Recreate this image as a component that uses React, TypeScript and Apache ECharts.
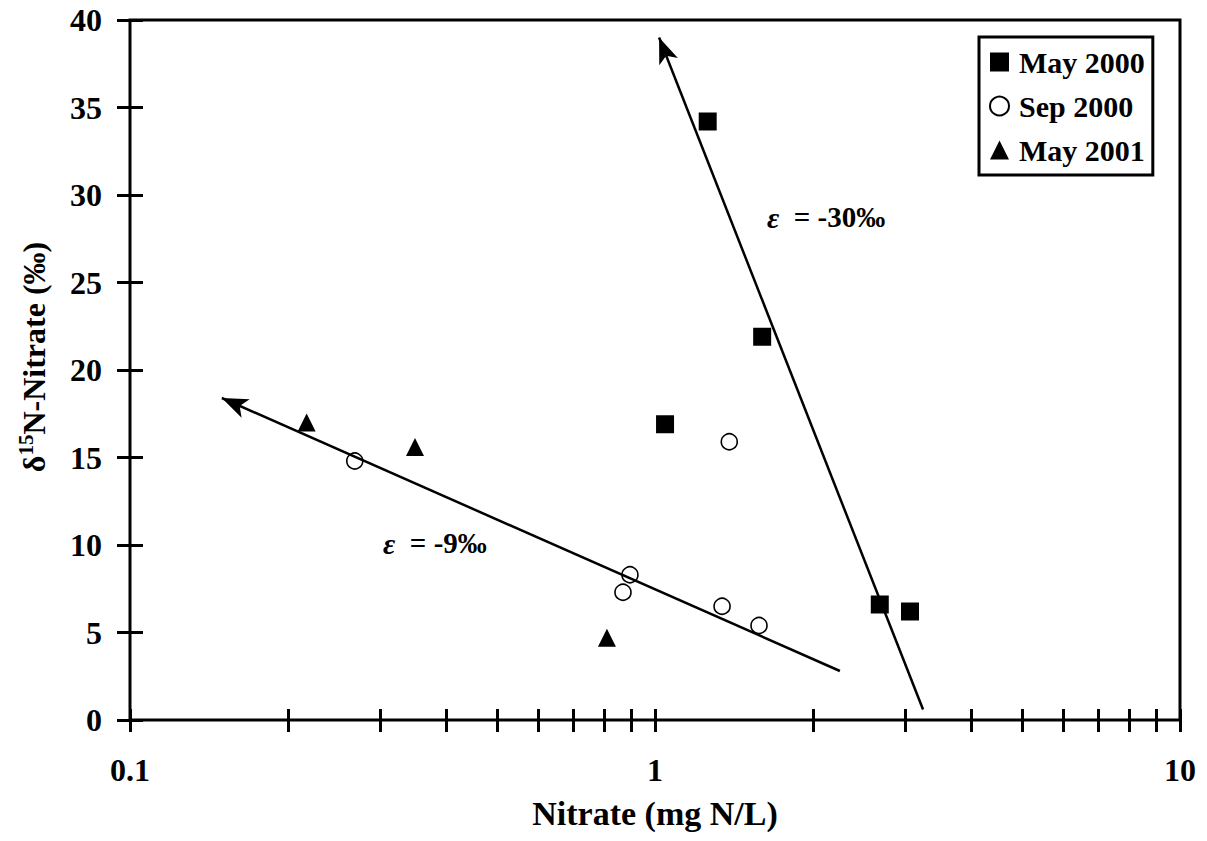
import React, { useEffect, useRef } from "react";
import * as echarts from "echarts";

// ---- data ----
const seriesNames = ["May 2000", "Sep 2000", "May 2001"];
const may2000 = [
  [1.26, 34.2],
  [1.6, 21.9],
  [1.045, 16.9],
  [2.68, 6.6],
  [3.06, 6.2],
];
const sep2000 = [
  [0.268, 14.8],
  [0.896, 8.3],
  [0.869, 7.3],
  [1.385, 15.9],
  [1.342, 6.5],
  [1.578, 5.4],
];
const may2001 = [
  [0.217, 17.0],
  [0.349, 15.6],
  [0.81, 4.7],
];
// enrichment-factor trend lines (arrow at first point)
const fitShallow = [
  [0.1496, 18.4],
  [2.25, 2.8],
];
const fitSteep = [
  [1.018, 39.0],
  [3.24, 0.6],
];
// annotation anchor points (left edge of text) and texts
const annotationPoints = [
  [1.634, 28.74],
  [0.3034, 10.11],
];
const annotationTexts = ["  = -30‰", "  = -9‰"];

const xMajorLabels = [0.1, 1, 10];
const xTickValues = [
  0.1, 0.2, 0.3, 0.4, 0.5, 0.6, 0.7, 0.8, 0.9, 1, 2, 3, 4, 5, 6, 7, 8, 9, 10,
];
const yMin = 0;
const yMax = 40;
const yInterval = 5;

const FONT = "'Liberation Serif', 'Times New Roman', serif";

export default function App() {
  const ref = useRef<HTMLDivElement>(null);

  useEffect(() => {
    if (!ref.current) return;
    const chart = echarts.init(ref.current, undefined, { renderer: "svg" });

    const option: any = {
      animation: false,
      backgroundColor: "#fff",
      textStyle: { fontFamily: FONT, color: "#000" },
      grid: {
        left: 130,
        right: 27,
        top: 20,
        bottom: 121,
        show: true,
        backgroundColor: "transparent",
        borderColor: "#000",
        borderWidth: 3,
        containLabel: false,
      },
      legend: {
        data: seriesNames,
        orient: "vertical",
        left: 979,
        top: 37,
        itemWidth: 19,
        itemHeight: 19,
        itemGap: 14,
        padding: [10, 8, 10, 10],
        borderColor: "#000",
        borderWidth: 3,
        backgroundColor: "#fff",
        selectedMode: false,
        textStyle: {
          fontFamily: FONT,
          fontWeight: "bold",
          fontSize: 30,
          lineHeight: 30,
          color: "#000",
          padding: [0, 0, 0, 5],
        },
      },
      xAxis: {
        type: "log",
        logBase: 10,
        min: 0.1,
        max: 10,
        position: "bottom",
        offset: 12,
        z: 10,
        splitLine: { show: false },
        name: "Nitrate (mg N/L)",
        nameLocation: "middle",
        nameGap: 64,
        nameTextStyle: {
          fontFamily: FONT,
          fontWeight: "bold",
          fontSize: 34,
          color: "#000",
        },
        axisLine: { show: false, onZero: false },
        axisTick: {
          show: true,
          inside: true,
          length: 23,
          lineStyle: { color: "#000", width: 3 },
          customValues: xTickValues,
        },
        minorTick: { show: false },
        axisLabel: {
          show: true,
          margin: 22,
          fontFamily: FONT,
          fontWeight: "bold",
          fontSize: 32,
          color: "#000",
          customValues: xMajorLabels,
          formatter: (v: number) => String(Math.round(v * 10) / 10),
        },
      },
      yAxis: {
        type: "value",
        min: yMin,
        max: yMax,
        interval: yInterval,
        position: "left",
        offset: 13,
        z: 10,
        splitLine: { show: false },
        name: "{a|δ}{s|15}{a|N-Nitrate (‰)}",
        nameLocation: "middle",
        nameGap: 67,
        nameTextStyle: {
          fontFamily: FONT,
          fontWeight: "bold",
          fontSize: 32,
          color: "#000",
          padding: [0, 0, 0, 26],
          rich: {
            a: {
              fontFamily: FONT,
              fontWeight: "bold",
              fontSize: 32,
              lineHeight: 36,
              verticalAlign: "bottom",
              color: "#000",
            },
            s: {
              fontFamily: FONT,
              fontWeight: "bold",
              fontSize: 21,
              lineHeight: 36,
              verticalAlign: "bottom",
              padding: [0, 0, 14, 0],
              color: "#000",
            },
          },
        },
        axisLine: { show: false, onZero: false },
        axisTick: {
          show: true,
          inside: true,
          length: 26,
          lineStyle: { color: "#000", width: 3 },
        },
        axisLabel: {
          show: true,
          margin: 15,
          fontFamily: FONT,
          fontWeight: "bold",
          fontSize: 32,
          color: "#000",
        },
      },
      series: [
        {
          name: "fits",
          type: "line",
          data: [],
          silent: true,
          markLine: {
            silent: true,
            symbol: ["arrow", "none"],
            symbolSize: [15, 26],
            label: { show: false },
            lineStyle: { color: "#000", width: 2.5, type: "solid", opacity: 1 },
            itemStyle: { color: "#000" },
            emphasis: { disabled: true },
            data: [
              [{ coord: fitShallow[0] }, { coord: fitShallow[1] }],
              [{ coord: fitSteep[0] }, { coord: fitSteep[1] }],
            ],
          },
          z: 2,
        },
        {
          name: seriesNames[0],
          type: "scatter",
          symbol: "rect",
          symbolSize: 18,
          itemStyle: { color: "#000", opacity: 1 },
          data: may2000,
          z: 3,
        },
        {
          name: seriesNames[1],
          type: "scatter",
          symbol: "circle",
          symbolSize: 16,
          itemStyle: {
            color: "#fff",
            borderColor: "#000",
            borderWidth: 1.6,
            opacity: 1,
          },
          data: sep2000,
          z: 3,
        },
        {
          name: seriesNames[2],
          type: "scatter",
          symbol: "triangle",
          symbolSize: 18,
          itemStyle: { color: "#000", opacity: 1 },
          data: may2001,
          z: 3,
        },
        {
          name: "annotations",
          type: "scatter",
          symbolSize: 0,
          silent: true,
          itemStyle: { color: "#000", opacity: 1 },
          data: annotationPoints,
          label: {
            show: true,
            position: "right",
            distance: 0,
            formatter: (p: any) =>
              "{e|ε}{t|" + annotationTexts[p.dataIndex] + "}",
            rich: {
              e: {
                fontFamily: FONT,
                fontStyle: "italic",
                fontWeight: "bold",
                fontSize: 30,
                color: "#000",
              },
              t: {
                fontFamily: FONT,
                fontWeight: "bold",
                fontSize: 29,
                color: "#000",
              },
            },
          },
          z: 4,
        },
      ],
    };

    chart.setOption(option);
    return () => {
      chart.dispose();
    };
  }, []);

  return (
    <div
      ref={ref}
      style={{
        position: "fixed",
        left: 0,
        top: 0,
        width: 1207,
        height: 841,
        background: "#fff",
      }}
    />
  );
}
